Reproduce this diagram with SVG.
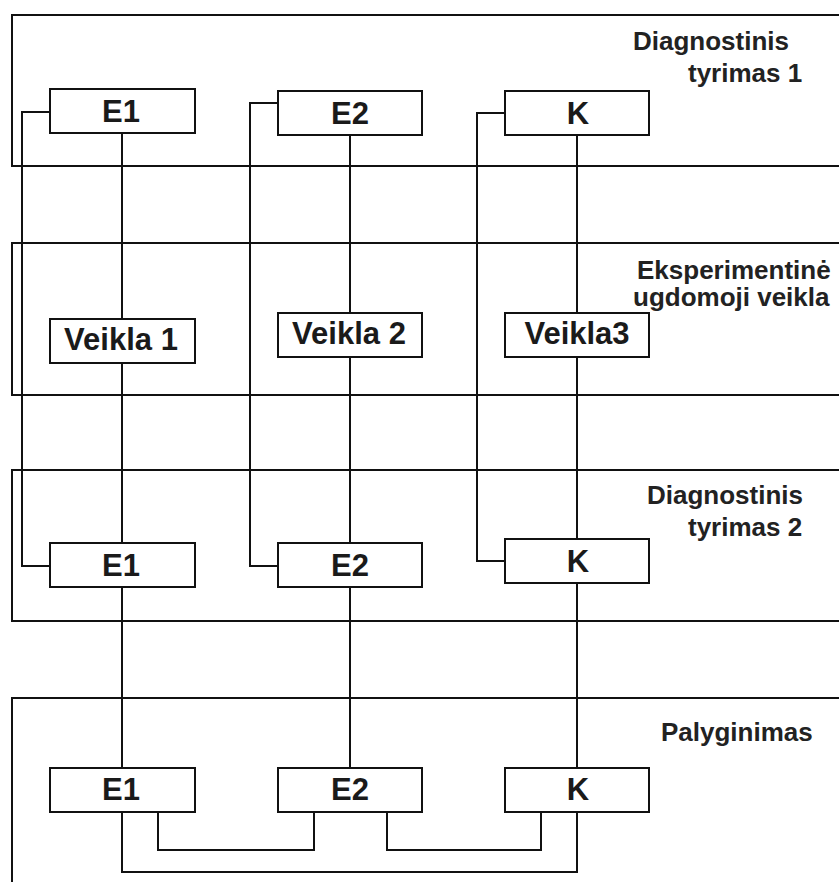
<svg xmlns="http://www.w3.org/2000/svg" width="839" height="882" viewBox="0 0 839 882">
<style>
.band{fill:#fff;stroke:#111;stroke-width:2}
.box{fill:#fff;stroke:#111;stroke-width:2}
.ln{fill:none;stroke:#111;stroke-width:2}
.t{font-family:"Liberation Sans",Arial,sans-serif;font-weight:bold;fill:#1a1a1a;text-anchor:middle}
.bt{font-size:31px}
.lb{font-family:"Liberation Sans",Arial,sans-serif;font-weight:bold;fill:#222;font-size:26px}
</style>
<rect width="839" height="882" fill="#fff"/>
<g id="bands">
<g id="band1"><rect class="band" x="12" y="15" width="840" height="151"/>
<text class="lb" x="633" y="50">Diagnostinis</text><text class="lb" x="688" y="82">tyrimas 1</text></g>
<g id="band2"><rect class="band" x="12" y="243" width="840" height="152"/>
<text class="lb" x="637" y="279">Eksperimentinė</text><text class="lb" x="633" y="306">ugdomoji veikla</text></g>
<g id="band3"><rect class="band" x="12" y="470" width="840" height="151"/>
<text class="lb" x="647" y="504">Diagnostinis</text><text class="lb" x="688" y="536">tyrimas 2</text></g>
<g id="band4"><rect class="band" x="12" y="698" width="840" height="200"/>
<text class="lb" x="661" y="741">Palyginimas</text></g>
</g>
<g id="connectors">
<path class="ln" d="M122 133V768M350 135V768M577 135V768"/>
<path class="ln" d="M50 112H22V566H50M278 103H250V566H278M505 113H477V561H505"/>
<path class="ln" d="M158 812V850H314V812M387 812V850H541V812M122 812V872H577V812"/>
</g>
<g id="n-e1-1"><rect class="box" x="50" y="89" width="145" height="44"/><text class="t bt" x="121" y="122">E1</text></g>
<g id="n-e2-1"><rect class="box" x="278" y="91" width="144" height="44"/><text class="t bt" x="350" y="124">E2</text></g>
<g id="n-k-1"><rect class="box" x="505" y="91" width="144" height="44"/><text class="t bt" x="578" y="124">K</text></g>
<g id="n-v1"><rect class="box" x="50" y="319" width="145" height="44"/><text class="t bt" x="121" y="350">Veikla 1</text></g>
<g id="n-v2"><rect class="box" x="278" y="313" width="144" height="44"/><text class="t bt" x="349" y="344">Veikla 2</text></g>
<g id="n-v3"><rect class="box" x="505" y="313" width="144" height="44"/><text class="t bt" x="577" y="344">Veikla3</text></g>
<g id="n-e1-2"><rect class="box" x="50" y="543" width="145" height="44"/><text class="t bt" x="121" y="576">E1</text></g>
<g id="n-e2-2"><rect class="box" x="278" y="543" width="144" height="44"/><text class="t bt" x="350" y="576">E2</text></g>
<g id="n-k-2"><rect class="box" x="505" y="539" width="144" height="44"/><text class="t bt" x="578" y="572">K</text></g>
<g id="n-e1-3"><rect class="box" x="50" y="768" width="145" height="44"/><text class="t bt" x="121" y="800">E1</text></g>
<g id="n-e2-3"><rect class="box" x="278" y="768" width="144" height="44"/><text class="t bt" x="350" y="800">E2</text></g>
<g id="n-k-3"><rect class="box" x="505" y="768" width="144" height="44"/><text class="t bt" x="578" y="800">K</text></g>
</svg>
